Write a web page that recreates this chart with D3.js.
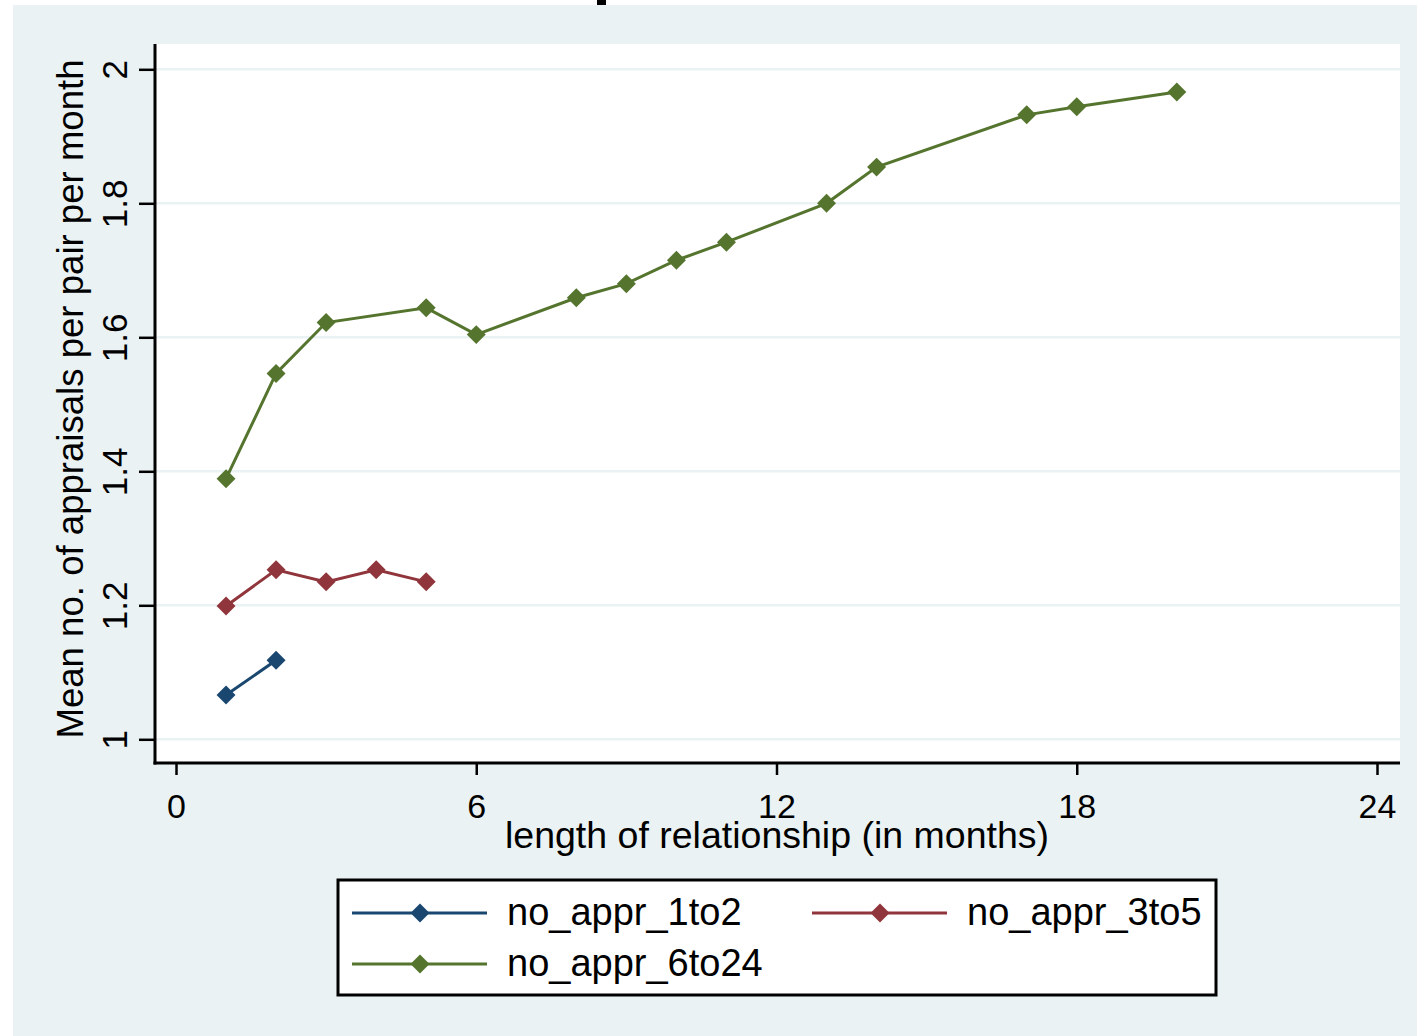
<!DOCTYPE html>
<html>
<head>
<meta charset="utf-8">
<script src="https://cdn.jsdelivr.net/npm/d3@7"></script>
<style>
  html, body { margin: 0; padding: 0; background: #ffffff; }
  svg { display: block; font-family: "Liberation Sans", Arial, sans-serif; }
</style>
</head>
<body>
<svg id="chart" width="1417" height="1036"></svg>
<script>
// Series data (months vs mean appraisals per pair per month)
const months1to2 = [1, 2];
const values1to2 = [1.066, 1.118];

const months3to5 = [1, 2, 3, 4, 5];
const values3to5 = [1.199, 1.253, 1.235, 1.253, 1.235];

const months6to24 = [1, 2, 3, 5, 6, 8, 9, 10, 11, 13, 14, 17, 18, 20];
const values6to24 = [1.389, 1.546, 1.622, 1.644, 1.604, 1.659, 1.680, 1.715, 1.742, 1.800, 1.854, 1.932, 1.944, 1.966];

const seriesNames = ['no_appr_1to2', 'no_appr_3to5', 'no_appr_6to24'];
const seriesColors = ['#1a476f', '#90353b', '#55752f'];

const xTicks = [0, 6, 12, 18, 24];
const yTicks = [1, 1.2, 1.4, 1.6, 1.8, 2];

const xTitle = 'length of relationship (in months)';
const yTitle = 'Mean no. of appraisals per pair per month';

const series = [
    { name: seriesNames[0], color: seriesColors[0], pts: months1to2.map((m, i) => [m, values1to2[i]]) },
    { name: seriesNames[1], color: seriesColors[1], pts: months3to5.map((m, i) => [m, values3to5[i]]) },
    { name: seriesNames[2], color: seriesColors[2], pts: months6to24.map((m, i) => [m, values6to24[i]]) }
];

const svg = d3.select('#chart');

// Graph region background
svg.append('rect')
    .attr('x', 13).attr('y', 5)
    .attr('width', 1417 - 13).attr('height', 1036 - 5)
    .attr('fill', '#eaf2f3');

// Remnant of the clipped title at the top edge
svg.append('rect')
    .attr('x', 597).attr('y', 0)
    .attr('width', 9).attr('height', 5)
    .attr('fill', '#000');

// Plot box
const box = { left: 155, right: 1400, top: 44, bottom: 763 };

svg.append('rect')
    .attr('x', box.left).attr('y', box.top)
    .attr('width', box.right - box.left).attr('height', box.bottom - box.top)
    .attr('fill', '#ffffff');

// Scales
const x = d3.scaleLinear().domain([0, 24]).range([176, 1377]);
const y = d3.scaleLinear().domain([1, 2]).range([739.3, 69.3]);

// Gridlines
svg.append('g')
    .selectAll('line')
    .data(yTicks)
    .enter()
    .append('line')
        .attr('x1', box.left).attr('x2', box.right)
        .attr('y1', d => y(d)).attr('y2', d => y(d))
        .attr('stroke', '#eaf2f3')
        .attr('stroke-width', 2.5);

// Axes
const yAxis = d3.axisLeft(y).tickValues(yTicks).tickSize(16).tickSizeOuter(0)
    .tickFormat(d3.format('~g'));
const gy = svg.append('g').attr('transform', `translate(${box.left}, 0)`).call(yAxis);
gy.select('.domain').remove();
gy.selectAll('.tick line').attr('stroke', '#000').attr('stroke-width', 2.5);
gy.selectAll('.tick text')
    .attr('x', null).attr('dy', null)
    .attr('text-anchor', 'middle')
    .attr('transform', 'translate(-28, 0) rotate(-90)')
    .attr('fill', '#000')
    .style('font-size', '35px');

const xAxis = d3.axisBottom(x).tickValues(xTicks).tickSize(12).tickSizeOuter(0);
const gx = svg.append('g').attr('transform', `translate(0, ${box.bottom})`).call(xAxis);
gx.select('.domain').remove();
gx.selectAll('.tick line').attr('stroke', '#000').attr('stroke-width', 2.5);
gx.selectAll('.tick text')
    .attr('y', 55).attr('dy', null)
    .attr('fill', '#000')
    .style('font-size', '34px');

// Axis lines
svg.append('line')
    .attr('x1', box.left).attr('x2', box.left)
    .attr('y1', box.top).attr('y2', box.bottom + 1.5)
    .attr('stroke', '#000').attr('stroke-width', 3);
svg.append('line')
    .attr('x1', box.left - 1.5).attr('x2', box.right)
    .attr('y1', box.bottom).attr('y2', box.bottom)
    .attr('stroke', '#000').attr('stroke-width', 3);

// Axis titles
svg.append('text')
    .attr('x', 777).attr('y', 848)
    .attr('text-anchor', 'middle')
    .style('font-size', '37.5px')
    .text(xTitle);

svg.append('text')
    .attr('transform', 'translate(83, 399) rotate(-90)')
    .attr('text-anchor', 'middle')
    .style('font-size', '36.6px')
    .text(yTitle);

// Lines and markers
const line = d3.line().x(d => x(d[0])).y(d => y(d[1]));
const diamond = d3.symbol().type(d3.symbolSquare).size(180);

series.forEach(s => {
    svg.append('path')
        .datum(s.pts)
        .attr('d', line)
        .attr('fill', 'none')
        .attr('stroke', s.color)
        .attr('stroke-width', 3);

    svg.append('g')
        .selectAll('path')
        .data(s.pts)
        .enter()
        .append('path')
            .attr('d', diamond)
            .attr('transform', d => `translate(${x(d[0])}, ${y(d[1])}) rotate(45)`)
            .attr('fill', s.color);
});

// Legend
const legend = svg.append('g');
legend.append('rect')
    .attr('x', 338).attr('y', 880)
    .attr('width', 1216 - 338).attr('height', 995 - 880)
    .attr('fill', '#ffffff')
    .attr('stroke', '#000')
    .attr('stroke-width', 3);

const legendPos = [
    { lx: 352, ly: 913 },
    { lx: 812, ly: 913 },
    { lx: 352, ly: 964 }
];

series.forEach((s, i) => {
    const p = legendPos[i];
    legend.append('line')
        .attr('x1', p.lx).attr('x2', p.lx + 135)
        .attr('y1', p.ly).attr('y2', p.ly)
        .attr('stroke', s.color).attr('stroke-width', 3);
    legend.append('path')
        .attr('d', diamond)
        .attr('transform', `translate(${p.lx + 68}, ${p.ly}) rotate(45)`)
        .attr('fill', s.color);
    legend.append('text')
        .attr('x', p.lx + 155).attr('y', p.ly + 12)
        .style('font-size', '38px')
        .text(s.name);
});
</script>
</body>
</html>
